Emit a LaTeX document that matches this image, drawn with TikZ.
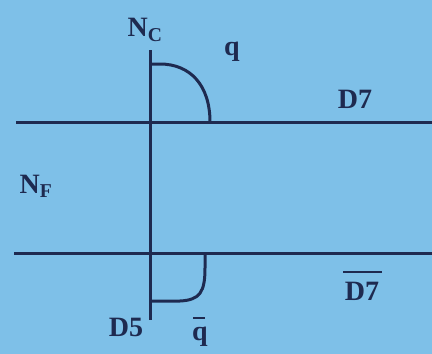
\documentclass[tikz,border=0pt]{standalone}
\usepackage{fontspec}
\setmainfont{Liberation Serif}
\definecolor{bg}{RGB}{126,192,232}
\definecolor{ink}{RGB}{30,42,80}
\begin{document}
\begin{tikzpicture}[x=1pt,y=-1pt,
  ln/.style={draw=ink,line width=3pt},
  bar/.style={draw=ink,line width=2.2pt},
  lbl/.style={text=ink,font=\bfseries\fontsize{28}{32}\selectfont,inner sep=0pt}]
\fill[bg] (0,0) rectangle (432,354);
\useasboundingbox (0,0) rectangle (432,354);
% lines
\coordinate (tl) at (16,122);
\coordinate (tr) at (432,122);
\coordinate (bl) at (14,253);
\coordinate (br) at (432,253);
\coordinate (vt) at (150,50);
\coordinate (vb) at (150,320);
\draw[ln] (tl) -- (tr);
\draw[ln] (bl) -- (br);
\draw[ln] (vt) -- (vb);
% arcs
\coordinate (a1) at (150,64);
\coordinate (a2) at (210,122);
\draw[ln] (a1) -- (160,64) .. controls (190,64) and (210,85) .. (a2);
\coordinate (b1) at (205,253);
\coordinate (b2) at (150,301);
\draw[ln] (b1) -- (205,268) .. controls (205,292) and (200,300) .. (180,301) -- (b2);
% labels
\node[lbl] (nc) at (145,30) {N\textsubscript{C}};
\node[lbl] (q) at (232,52) {q};
\node[lbl] (d7) at (355,99) {D7};
\node[lbl] (nf) at (36,186) {N\textsubscript{F}};
\node[lbl] (d5) at (126,327) {D5};
\node[lbl] (qb) at (200,337) {q};
\node[lbl] (d7b) at (362,291) {D7};
\draw[bar] (193,318) -- (205,318);
\draw[bar] (343,272) -- (382,272);
\end{tikzpicture}
\end{document}
